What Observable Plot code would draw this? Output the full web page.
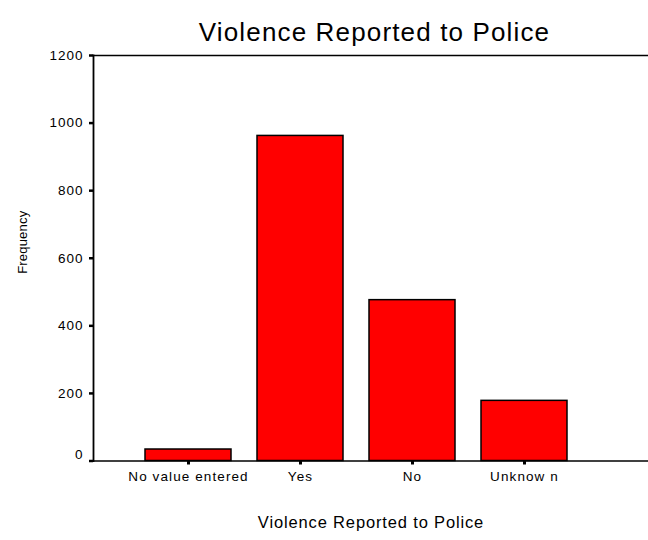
<!DOCTYPE html>
<html>
<head>
<meta charset="utf-8">
<script src="https://cdn.jsdelivr.net/npm/d3@7"></script>
<script src="https://cdn.jsdelivr.net/npm/@observablehq/plot@0.6"></script>
<style>
  html, body { margin: 0; padding: 0; background: #fff; }
  svg { font-family: "Liberation Sans", Arial, sans-serif; }
</style>
</head>
<body>
<div id="chart"></div>
<script>
const categories = ["No value entered", "Yes", "No", "Unknow n"];
const frequencies = [34, 962, 476, 178];
const yTicks = [0, 200, 400, 600, 800, 1000, 1200];
const titleText = "Violence Reported to Police";
const xLabel = "Violence Reported to Police";
const yLabel = "Frequency";

const data = categories.map((c, i) => ({category: c, count: frequencies[i]}));

const chart = Plot.plot({
  width: 648,
  height: 540,
  marginLeft: 93,
  marginRight: 0,
  marginTop: 55,
  marginBottom: 79.5,
  style: {fontFamily: "'Liberation Sans', Arial, sans-serif", background: "#fff", color: "#000"},
  x: {domain: categories, range: [94, 618.5], paddingInner: 0.235, paddingOuter: 0.4575, label: null},
  y: {domain: [0, 1200], label: null},
  marks: [
    Plot.barY(data, {x: "category", y: "count", fill: "#ff0000", stroke: "#000", strokeWidth: 1.5, inset: 0}),
    Plot.ruleY([0, 1200], {stroke: "#000", strokeWidth: 1.5}),
    Plot.frame({anchor: "left", stroke: "#000", strokeWidth: 1.8}),
    Plot.axisY(yTicks, {tickSize: 4, strokeWidth: 2.5, text: null, label: null}),
    Plot.axisY(yTicks.filter(d => d !== 0), {tickSize: 0, tickPadding: 10, fontSize: 13.5, label: null, tickFormat: d => String(d)}),
    Plot.axisY([0], {tickSize: 0, tickPadding: 10, dy: -6, fontSize: 13.5, label: null, tickFormat: d => String(d)}),
    Plot.axisX({tickSize: 4, strokeWidth: 3, tickPadding: 6, fontSize: 13.5, label: null}),
    Plot.text([titleText], {text: d => d, frameAnchor: "top", textAnchor: "middle", dx: 3.5, dy: -32.5, fontSize: 26, fill: "#000"}),
    Plot.text([yLabel], {text: d => d, frameAnchor: "left", textAnchor: "middle", rotate: -90, dx: -71, dy: -16, fontSize: 13, fill: "#000"}),
    Plot.text([xLabel], {text: d => d, frameAnchor: "bottom", textAnchor: "middle", dx: 0, dy: 66.5, fontSize: 16.5, fill: "#000"})
  ]
});
document.getElementById("chart").appendChild(chart);
const sel = d3.select(chart);
sel.selectAll('g[aria-label="y-axis tick label"] text').style("letter-spacing", "1px");
sel.selectAll('g[aria-label="x-axis tick label"] text').style("letter-spacing", "1.1px");
const spacingBySize = {"26px": "1.15px", "16.5px": "0.85px", "13px": "0.2px"};
sel.selectAll("text").each(function() {
  const t = this.textContent;
  if (t === titleText || t === xLabel || t === yLabel) {
    const fs = getComputedStyle(this).fontSize;
    if (spacingBySize[fs]) this.style.letterSpacing = spacingBySize[fs];
  }
});
</script>
</body>
</html>
